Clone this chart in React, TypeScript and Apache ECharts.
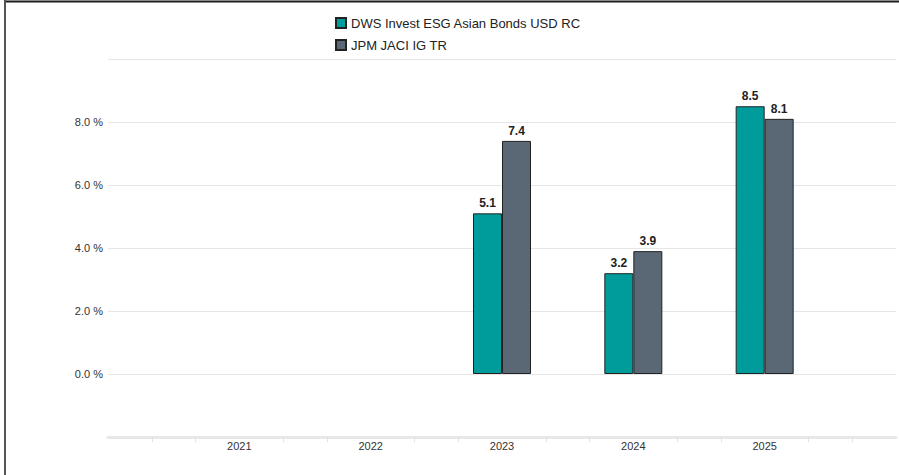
import React, { useEffect, useRef } from "react";
import * as echarts from "echarts";

const years = [2021, 2022, 2023, 2024, 2025];
const fundName = "DWS Invest ESG Asian Bonds USD RC";
const benchName = "JPM JACI IG TR";
const fundValues: (number | null)[] = [null, null, 5.1, 3.2, 8.5];
const benchValues: (number | null)[] = [null, null, 7.4, 3.9, 8.1];
const yLabelValues = [0, 2, 4, 6, 8];

const FONT = "'Liberation Sans', Arial, Helvetica, sans-serif";

export default function App() {
  const ref = useRef<HTMLDivElement>(null);
  useEffect(() => {
    if (!ref.current) return;
    const chart = echarts.init(ref.current, undefined, { renderer: "svg" });
    const toData = (vals: (number | null)[]) =>
      years
        .map((y, i) => (vals[i] == null ? null : [y, vals[i]]))
        .filter((d) => d !== null) as number[][];
    const labelCfg = {
      show: true,
      position: "top",
      distance: 4,
      fontSize: 12,
      fontWeight: "bold",
      color: "#222",
      fontFamily: FONT,
      formatter: (p: any) => Number(p.value[1]).toFixed(1),
    };
    chart.setOption({
      animation: false,
      textStyle: { fontFamily: FONT },
      legend: {
        orient: "vertical",
        left: 335,
        top: 16,
        padding: 0,
        itemWidth: 10,
        itemHeight: 10,
        itemGap: 8,
        icon: "rect",
        textStyle: { fontSize: 13, color: "#222", fontFamily: FONT, lineHeight: 14 },
        data: [fundName, benchName],
      },
      grid: { left: 108, right: 2, top: 59, bottom: 38, containLabel: false },
      xAxis: {
        type: "value",
        min: 2020,
        max: 2026,
        interval: 1,
        axisLine: { show: true, onZero: false, lineStyle: { color: "#e8e8e8", width: 3 } },
        axisTick: { show: false },
        minorTick: { show: true, splitNumber: 3, length: 5, lineStyle: { color: "#e2e2e2", width: 1 } },
        splitLine: { show: false },
        axisLabel: {
          color: "#333",
          fontSize: 11,
          margin: 3,
          fontFamily: FONT,
          formatter: (v: number) => (years.includes(v) ? String(v) : ""),
        },
      },
      yAxis: {
        type: "value",
        min: -2,
        max: 10,
        interval: 2,
        axisLine: { show: false },
        axisTick: { show: false },
        splitLine: { show: true, lineStyle: { color: "#e6e6e6", width: 1 } },
        axisLabel: {
          color: "#333",
          fontSize: 11,
          margin: 5,
          fontFamily: FONT,
          formatter: (v: number) => (yLabelValues.includes(v) ? v.toFixed(1) + " %" : ""),
        },
      },
      series: [
        {
          name: fundName,
          type: "bar",
          data: toData(fundValues),
          barWidth: 29,
          barGap: "0%",
          itemStyle: { color: "#009c9c", borderColor: "#222", borderWidth: 1 },
          label: labelCfg,
        },
        {
          name: benchName,
          type: "bar",
          data: toData(benchValues),
          barWidth: 29,
          barGap: "0%",
          itemStyle: { color: "#5a6875", borderColor: "#222", borderWidth: 1 },
          label: labelCfg,
        },
      ],
      graphic: [
        { type: "line", shape: { x1: 4, y1: 1.5, x2: 899, y2: 1.5 }, style: { stroke: "#1a1a1a", lineWidth: 2 }, silent: true },
        { type: "line", shape: { x1: 5, y1: 0, x2: 5, y2: 475 }, style: { stroke: "#555", lineWidth: 2 }, silent: true },
      ],
    });
    return () => chart.dispose();
  }, []);
  return (
    <div
      ref={ref}
      style={{ position: "absolute", left: 0, top: 0, width: 899, height: 475, background: "#fff" }}
    />
  );
}
